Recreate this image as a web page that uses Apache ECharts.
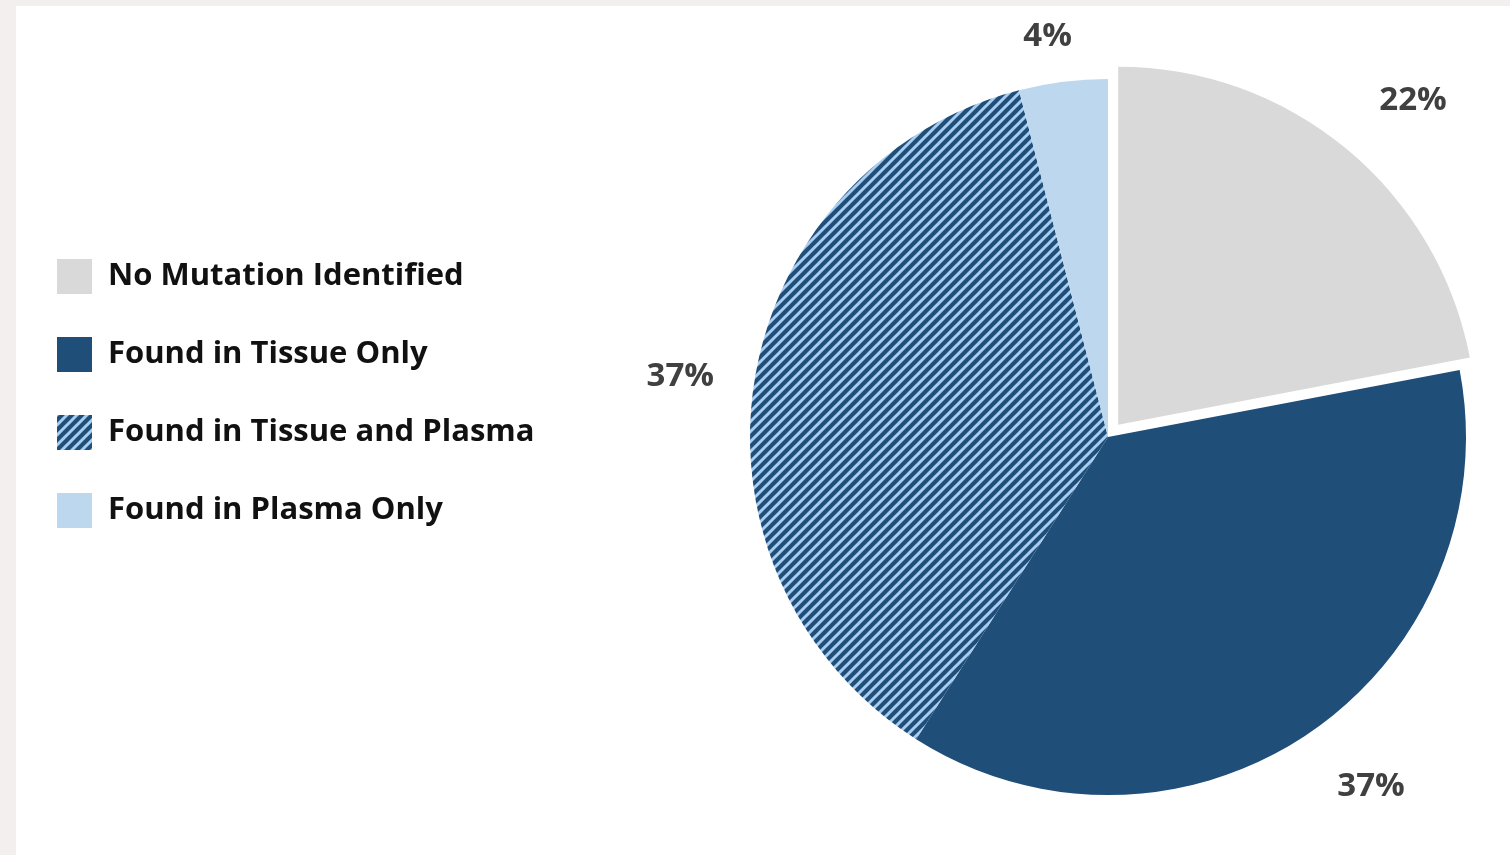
<!DOCTYPE html>
<html>
<head>
<meta charset="utf-8">
<script src="https://cdn.jsdelivr.net/npm/echarts@6/dist/echarts.min.js"></script>
<style>
  html, body { margin: 0; padding: 0; background: #f3efee; }
  #chart { position: absolute; left: 16px; top: 6px; width: 1494px; height: 849px; background: #ffffff; }
</style>
</head>
<body>
<div id="chart"></div>
<script>
  var categories = ["No Mutation Identified", "Found in Tissue Only", "Found in Tissue and Plasma", "Found in Plasma Only"];
  var values = [22, 37, 37, 4];
  var colors = ["#d9d9d9", "#1f4e79", "hatch", "#bdd7ee"];

  // small hand nudges so the % labels sit where the slide had them
  var labelNudge = [[-4, -10], [-5, 12], [14, 3], [20, 4]];

  function makeHatch() {
    var size = 10;
    var c = document.createElement("canvas");
    c.width = size;
    c.height = size;
    var ctx = c.getContext("2d");
    ctx.fillStyle = "#1f4e79";
    ctx.fillRect(0, 0, size, size);
    ctx.strokeStyle = "#a9cdf0";
    ctx.lineWidth = 3;
    ctx.beginPath();
    ctx.moveTo(-2, size + 2);
    ctx.lineTo(size + 2, -2);
    ctx.moveTo(-2, 2);
    ctx.lineTo(2, -2);
    ctx.moveTo(size - 2, size + 2);
    ctx.lineTo(size + 2, size - 2);
    ctx.stroke();
    return { image: c, repeat: "repeat" };
  }

  var hatch = makeHatch();

  var pieData = categories.map(function (name, i) {
    return {
      name: name,
      value: values[i],
      selected: i === 0,
      itemStyle: { color: colors[i] === "hatch" ? hatch : colors[i] }
    };
  });

  var chart = echarts.init(document.getElementById("chart"), null, { renderer: "canvas" });
  chart.setOption({
    animation: false,
    textStyle: { fontFamily: "'Open Sans', sans-serif" },
    legend: {
      orient: "vertical",
      left: 36,
      top: 248,
      icon: "rect",
      itemWidth: 35,
      itemHeight: 35,
      itemGap: 43,
      selectedMode: false,
      data: categories,
      textStyle: {
        fontFamily: "'Open Sans', sans-serif",
        fontSize: 31,
        fontWeight: "bold",
        color: "#111111",
        padding: [0, 0, 0, 11]
      }
    },
    series: [{
      type: "pie",
      center: [1092, 431],
      radius: 358,
      startAngle: 90,
      clockwise: true,
      selectedMode: "single",
      selectedOffset: 16,
      emphasis: { disabled: true },
      label: {
        show: true,
        position: "outside",
        formatter: "{c}%",
        fontFamily: "'Open Sans', sans-serif",
        fontSize: 33,
        fontWeight: "bold",
        color: "#404040"
      },
      labelLine: { show: false, length: 50, length2: 0 },
      labelLayout: function (params) {
        var n = labelNudge[params.dataIndex];
        return { dx: n[0], dy: n[1] };
      },
      data: pieData
    }]
  });
</script>
</body>
</html>
